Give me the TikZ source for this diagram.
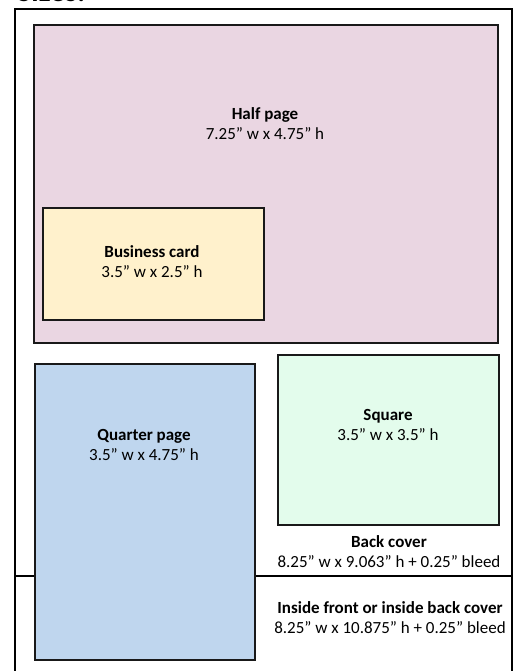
\documentclass[tikz,border=0pt]{standalone}
\usepackage{fontspec}
\setmainfont{Carlito}
\usepackage{tikz}
\usetikzlibrary{positioning}
\definecolor{halfpink}{RGB}{234, 214, 226}
\definecolor{cardyellow}{RGB}{255, 241, 204}
\definecolor{quarterblue}{RGB}{191, 214, 238}
\definecolor{squaregreen}{RGB}{227, 252, 236}

\begin{document}
\begin{tikzpicture}[x=1pt, y=-1pt,
    adbox/.style={draw=black!90, line width=1.8pt, inner sep=0pt, anchor=north west},
    sizelabel/.style={align=center, font=\fontsize{17}{20}\selectfont}]
  \useasboundingbox (0,0) rectangle (514,671);
  % page frame and cover split
  \node[font=\bfseries\fontsize{30}{36}\selectfont, anchor=base west, inner sep=0pt] (title) at (17,2) {Sizes:};
  \draw[line width=1.8pt] (15,680) -- (15,9) -- (512,9) -- (512,680);
  \draw[line width=1.8pt] (15,576) -- (512,576);
  % ad boxes
  \node[adbox, fill=halfpink, minimum width=464pt, minimum height=318pt] (half) at (33,24) {};
  \node[adbox, fill=cardyellow, minimum width=221pt, minimum height=112pt] (card) at (42,207) {};
  \node[adbox, fill=quarterblue, minimum width=220pt, minimum height=296pt] (quarter) at (34,363) {};
  \node[adbox, fill=squaregreen, minimum width=221pt, minimum height=170pt] (square) at (277,354) {};
  % labels
  \node[sizelabel] (halflabel) at (265,124) {\textbf{Half page}\\7.25” w x 4.75” h};
  \node[sizelabel] (cardlabel) at (152,262) {\textbf{Business card}\\3.5” w x 2.5” h};
  \node[sizelabel] (quarterlabel) at (144,445) {\textbf{Quarter page}\\3.5” w x 4.75” h};
  \node[sizelabel] (squarelabel) at (388,425) {\textbf{Square}\\3.5” w x 3.5” h};
  \node[sizelabel] (backlabel) at (389,552) {\textbf{Back cover}\\8.25” w x 9.063” h + 0.25” bleed};
  \node[sizelabel] (insidelabel) at (390,618) {\textbf{Inside front or inside back cover}\\8.25” w x 10.875” h + 0.25” bleed};
\end{tikzpicture}
\end{document}
